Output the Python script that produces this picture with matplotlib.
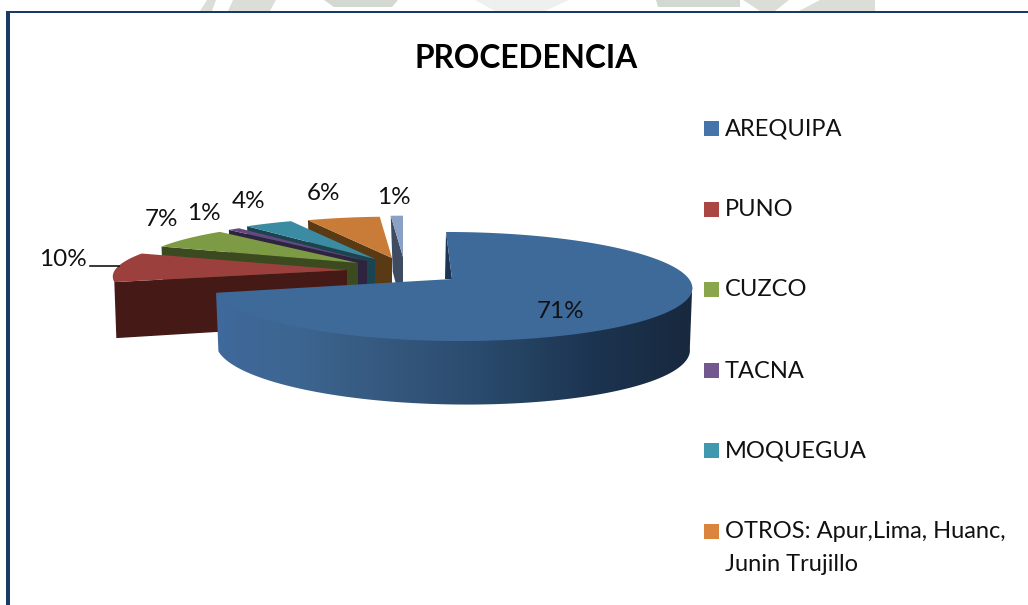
import numpy as np
import matplotlib
matplotlib.use("Agg")
import matplotlib.pyplot as plt
from matplotlib.colors import LinearSegmentedColormap
from matplotlib.patches import Polygon, Rectangle

plt.rcParams['font.family'] = ['Lato', 'DejaVu Sans']

# Data
categories = ["AREQUIPA", "PUNO", "CUZCO", "TACNA", "MOQUEGUA", "OTROS: Apur,Lima, Huanc,\nJunin Trujillo", ""]
values = [71, 10, 7, 1, 4, 6, 1]

# Styles
top_colors = ["#3E6A9A", "#9C403E", "#7D9A44", "#64497F", "#3B8CA3", "#C97B38", "#8AA0C4"]
side_colors = ["#1D3555", "#451915", "#3C4A20", "#2F2440", "#1C4450", "#5A3A15", "#3F4B60"]
legend_colors = ["#4674AA", "#AA4643", "#89A54E", "#71588F", "#4198AF", "#DB843D"]

# Exploded slice geometry, in pixels
apex_x = [452, 347, 358, 367, 375, 392, 403]
apex_y = [279, 270, 263, 261, 259, 258, 257]
radius_x = [237, 232, 222, 222, 222, 222, 222]
radius_y = [53.5, 47, 47, 47, 47, 47, 47]
skew = [-6.8, 0, 0, 0, 0, 0, 0]
label_xy = [(561, 311), (63, 259), (162, 219), (204, 213), (249, 201), (324, 193), (394, 197)]
legend_y = [128.5, 209.5, 289.5, 370.5, 450.5, 531.5]
PERSPECTIVE = 0.1376


def rim(i, theta):
    # Point on the top face rim for an angle in degrees, clockwise from the top
    u = np.sin(np.radians(theta))
    v = np.cos(np.radians(theta))
    w = 1 + PERSPECTIVE * v
    x = apex_x[i] + radius_x[i] * u / w + skew[i] * v / w
    y = apex_y[i] - radius_y[i] * v / w
    return x, y


def drop(u, v):
    return 59.5 + 2 * u - 4 * v


fig = plt.figure(figsize=(10.28, 6.05), dpi=100)
ax = fig.add_axes([0, 0, 1, 1])

# Faint watermark behind the frame
for poly, col in [([(200, 11), (207, 0), (216, 0), (212, 11)], "#DADED7"),
                  ([(228, 11), (233, 0), (276, 0), (270, 11)], "#DADED7"),
                  ([(324, 0), (398, 0), (392, 7), (334, 7)], "#D3D8D0"),
                  ([(475, 0), (569, 0), (545, 11), (495, 11)], "#EEF0ED"),
                  ([(656, 0), (740, 0), (740, 7), (658, 7)], "#D3D8D0"),
                  ([(743, 0), (789, 0), (775, 11), (760, 11)], "#DADED7"),
                  ([(799, 11), (820, 0), (875, 0), (875, 11)], "#DADED7")]:
    ax.add_patch(Polygon(poly, closed=True, facecolor=col, edgecolor="none", zorder=1))

# Frame
ax.add_patch(Rectangle((6, 11), 1022, 2.2, facecolor="#1A3A66", edgecolor="none", zorder=2))
ax.add_patch(Rectangle((6, 11), 3.8, 594, facecolor="#1A3A66", edgecolor="none", zorder=2))

# Exploded slices, back to front
ends = np.cumsum(values) * 360 / sum(values)
starts = ends - np.array(values) * 360 / sum(values)
for i in range(len(values) - 1, 0, -1):
    x0, y0 = rim(i, starts[i])
    cut = [(x0, y0), (apex_x[i], apex_y[i]), (apex_x[i], apex_y[i] + 54), (x0 + 2, y0 + 56)]
    ax.add_patch(Polygon(cut, closed=True, facecolor=side_colors[i], edgecolor="none", zorder=3 + len(values) - i))
    arc = [rim(i, t) for t in np.linspace(starts[i], ends[i], 60)]
    ax.add_patch(Polygon([(apex_x[i], apex_y[i])] + arc, closed=True, facecolor=top_colors[i],
                         edgecolor="none", zorder=3 + len(values) - i))

# Big slice: notch, gradient rim and top face
z_big = 3 + len(values)
ax.add_patch(Polygon([rim(0, 0), (apex_x[0], apex_y[0]), (445, apex_y[0])], closed=True,
                     facecolor=side_colors[0], edgecolor="none", zorder=z_big))
thetas = np.linspace(97.9, ends[0], 160)
upper = []
lower = []
for t in thetas:
    x, y = rim(0, t)
    u, v = np.sin(np.radians(t)), np.cos(np.radians(t))
    # Clip area runs a little under the top face so no seam shows
    upper.append((x, y - 4 * np.sin((t - 97.9) / (ends[0] - 97.9) * np.pi)))
    lower.append((apex_x[0] + (x - apex_x[0]) * 0.99, y + drop(u, v)))
side = Polygon(upper + lower[::-1], closed=True, facecolor="none", edgecolor="none", zorder=z_big + 1)
ax.add_patch(side)
stops = [(216, "#40699C"), (300, "#3C6590"), (380, "#36597F"), (480, "#2A4B6D"), (593, "#1C3450"), (693, "#18283E")]
cmap = LinearSegmentedColormap.from_list(
    "rim", [((x - 216) / (693 - 216), c) for x, c in stops])
img = ax.imshow(np.linspace(0, 1, 256).reshape(1, -1), extent=(216, 693, 410, 280), cmap=cmap,
                aspect="auto", zorder=z_big + 1, interpolation="bilinear")
img.set_clip_path(side)
arc = [rim(0, t) for t in np.linspace(starts[0], ends[0], 240)]
ax.add_patch(Polygon([(apex_x[0], apex_y[0])] + arc, closed=True, facecolor=top_colors[0],
                     edgecolor="none", zorder=z_big + 2))

# Percent labels
for (x, y), v in zip(label_xy, values):
    ax.text(x, y, f"{v}%", fontsize=17.5, color="#111111", ha="center", va="center", zorder=20)
ax.plot([90, 119], [266, 266], color="black", lw=1.1, zorder=20)

# Title
ax.text(526, 58, "PROCEDENCIA", fontsize=22.8, fontweight="bold", color="black",
        ha="center", va="center", zorder=20)

# Legend
for y, name, col in zip(legend_y, categories, legend_colors):
    ax.add_patch(Rectangle((704, y - 7.5), 15, 15, facecolor=col, edgecolor="none", zorder=20))
    for j, line in enumerate(name.split("\n")):
        ax.text(725, y + 0.5 + j * 32.5, line, fontsize=17, color="#111111", ha="left", va="center", zorder=20)

ax.set_xlim(0, 1028)
ax.set_ylim(605, 0)
ax.axis("off")

fig.savefig("out.png", dpi=100, facecolor="white")
